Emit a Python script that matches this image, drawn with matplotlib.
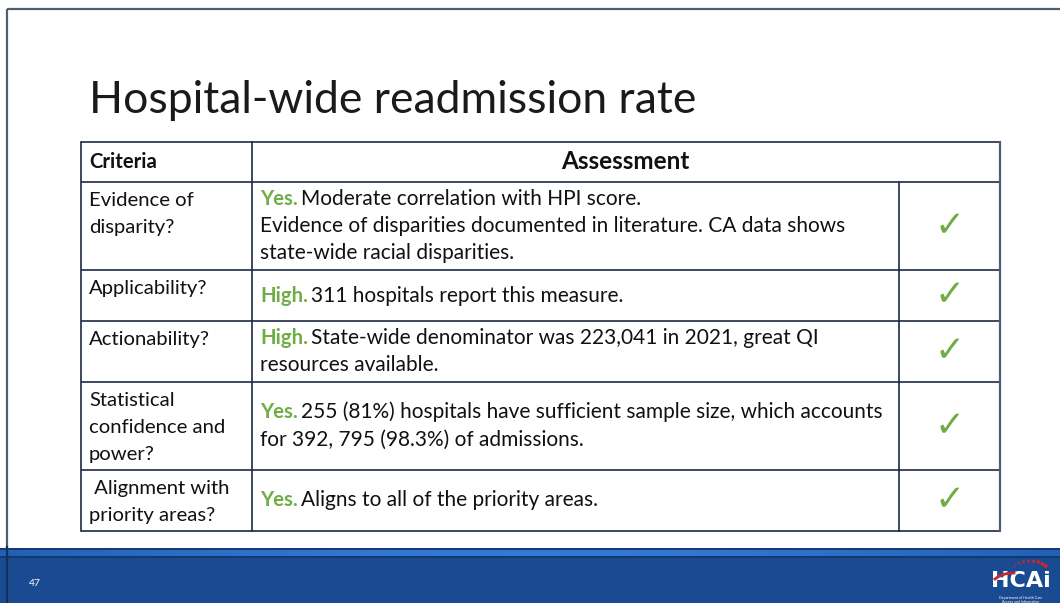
import matplotlib
matplotlib.use("Agg")
import matplotlib.pyplot as plt
import numpy as np
from matplotlib.colors import LinearSegmentedColormap

# ---------------- data ----------------
title = "Hospital-wide readmission rate"
header_criteria = "Criteria"
header_assessment = "Assessment"
criteria = ["Evidence of\ndisparity?",
            "Applicability?",
            "Actionability?",
            "Statistical\nconfidence and\npower?",
            " Alignment with\npriority areas?"]
verdicts = ["Yes.", "High.", "High.", "Yes.", "Yes."]
assessment_lines = [
    ["Moderate correlation with HPI score.",
     "Evidence of disparities documented in literature. CA data shows",
     "state-wide racial disparities."],
    ["311 hospitals report this measure."],
    ["State-wide denominator was 223,041 in 2021, great QI",
     "resources available."],
    ["255 (81%) hospitals have sufficient sample size, which accounts",
     "for 392, 795 (98.3%) of admissions."],
    ["Aligns to all of the priority areas."],
]
checks = [True, True, True, True, True]
page_number = "47"

# ---------------- layout ----------------
W, H = 1060, 603
row_edges = [142, 182, 270, 321, 382, 470, 531]
col_edges = [80.5, 251.5, 898.5, 1000]
LINE = 27
GREEN = "#70AD47"
LINE_COL = "#1c2a45"
FONT = "Lato"
FS = 14.6
FS_BODY = 15.0

fig = plt.figure(figsize=(W / 100, H / 100), dpi=100)
ax = fig.add_axes([0, 0, 1, 1])
ax.set_xlim(0, W)
ax.set_ylim(H, 0)
ax.axis("off")

# slide frame
ax.plot([7, W], [8.5, 8.5], color="#4e5d72", lw=1.6, solid_capstyle="butt")
ax.plot([7, 7], [8.5, H], color="#4e5d72", lw=1.6, solid_capstyle="butt")

# title
ax.text(89, 113, title, fontsize=32, family=FONT, fontweight="normal",
        color="#1a1a1a", va="baseline", ha="left")

# table grid
x0, x3 = col_edges[0], col_edges[-1]
for y in row_edges:
    ax.plot([x0, x3], [y, y], color=LINE_COL, lw=1.2, solid_capstyle="butt")
ax.plot([x0, x0], [row_edges[0], row_edges[-1]], color=LINE_COL, lw=1.2)
ax.plot([x3, x3], [row_edges[0], row_edges[-1]], color="#4e5d72", lw=1.6)
ax.plot([col_edges[1]] * 2, [row_edges[0], row_edges[-1]], color=LINE_COL, lw=1.2)
ax.plot([col_edges[2]] * 2, [row_edges[1], row_edges[-1]], color=LINE_COL, lw=1.2)

# header
hy = (row_edges[0] + row_edges[1]) / 2 + 5.5
ax.text(89, hy, header_criteria, fontsize=FS, family=FONT, fontweight="bold",
        color="#111111", va="baseline")
ax.text((col_edges[1] + col_edges[3]) / 2, hy + 1.5, header_assessment, fontsize=17.5,
        family=FONT, fontweight="bold", color="#111111", va="baseline", ha="center")

fig.canvas.draw()
renderer = fig.canvas.get_renderer()
inv = ax.transData.inverted()

for r in range(len(criteria)):
    top, bot = row_edges[r + 1], row_edges[r + 2]
    # criteria column (top aligned)
    for j, line in enumerate(criteria[r].split("\n")):
        ax.text(89, top + 24 + j * LINE, line, fontsize=FS, family=FONT,
                color="#111111", va="baseline")
    # assessment column (vertically centered)
    lines = assessment_lines[r]
    n = len(lines)
    c = (top + bot) / 2
    for j, line in enumerate(lines):
        yb = c + (j - (n - 1) / 2) * LINE + 6
        if j == 0:
            t = ax.text(260, yb, verdicts[r], fontsize=FS, family=FONT,
                        fontweight="bold", color=GREEN, va="baseline")
            bb = t.get_window_extent(renderer)
            xe = inv.transform((bb.x1, bb.y0))[0]
            ax.text(xe + 3, yb, line, fontsize=FS_BODY, family=FONT,
                    color="#111111", va="baseline")
        else:
            ax.text(260, yb, line, fontsize=FS_BODY, family=FONT,
                    color="#111111", va="baseline")
    if checks[r]:
        ax.text((col_edges[2] + col_edges[3]) / 2 + 0.5, c, "\u2713", fontsize=26,
                family="DejaVu Sans", color=GREEN, ha="center", va="center")

# bottom band
ax.add_patch(plt.Rectangle((0, 548), W, H - 548, color="#1a4a92", lw=0))
ax.add_patch(plt.Rectangle((0, 547.5), W, 3, color="#163c78", lw=0))
grad = np.sin(np.linspace(0, 1, 256) * np.pi)[None, :]
cmap = LinearSegmentedColormap.from_list("band", ["#2260b4", "#3479d4"])
ax.imshow(grad, extent=(0, W, 556, 550.5), cmap=cmap, aspect="auto", zorder=2)
ax.add_patch(plt.Rectangle((0, 556), W, 1.5, color="#143870", lw=0, zorder=3))
ax.plot([7, 7], [547, H], color="#10305e", lw=1.6, zorder=4)
ax.set_xlim(0, W)
ax.set_ylim(H, 0)

ax.text(29, 586, page_number, fontsize=7.5, color="white", family=FONT, va="baseline")

# logo
ax.text(1021, 587, "HCAi", fontsize=16, color="white", family="Liberation Sans Narrow",
        fontweight="bold", ha="center", va="baseline", zorder=5)
ax.text(1021, 595.5, "Department of Health Care\nAccess and Information", fontsize=2.6,
        color="white", family=FONT, ha="center", va="top", linespacing=1.2, zorder=5)
ang = np.linspace(200, 330, 9)
ax.scatter(1030 + 18 * np.cos(np.radians(ang)), 571 + 10 * np.sin(np.radians(ang)),
           s=np.linspace(0.5, 9, 9), color="#c8262e", zorder=6, lw=0)
ax.plot([995, 1000, 1007, 1014], [579, 575.5, 573.5, 573], color="#c8262e", lw=2, zorder=6)

fig.savefig("out.png", dpi=100)
